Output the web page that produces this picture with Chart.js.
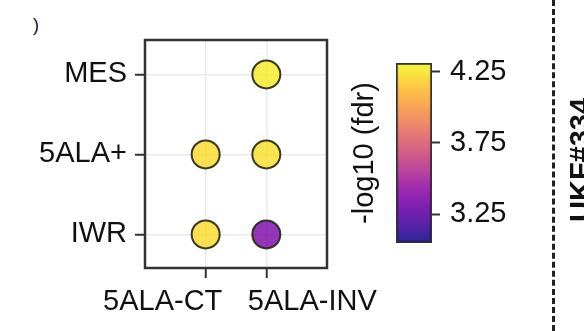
<!DOCTYPE html>
<html>
<head>
<meta charset="utf-8">
<script src="https://cdn.jsdelivr.net/npm/chart.js@4"></script>
<style>
    html, body { margin: 0; padding: 0; background: #fff; }
    body { width: 584px; height: 331px; position: relative; overflow: hidden;
           font-family: 'Liberation Sans', Arial, sans-serif; color: #111; }
    #dotChart { position: absolute; left: 0; top: 0; }
    #barChart { position: absolute; left: 340px; top: 0; }
    .cut-label { position: absolute; left: 33px; top: 15px; font-size: 18px; }
    .divider { position: absolute; left: 552px; top: 0; height: 331px; border-left: 3px dashed #222; }
    .side-title { position: absolute; left: 566px; top: 222px; font-size: 29px; line-height: 1;
                  font-weight: bold; white-space: nowrap; transform-origin: left top; transform: rotate(-90deg); }
</style>
</head>
<body>
<span class="cut-label">)</span>
<canvas id="dotChart" width="584" height="331"></canvas>
<canvas id="barChart" width="200" height="331"></canvas>
<div class="divider"></div>
<div class="side-title">UKF#334</div>
<script>
const xLabels = ['5ALA-CT', '5ALA-INV'];
const yLabels = ['IWR', '5ALA+', 'MES'];

// one entry per dot
const pointX = ['5ALA-CT', '5ALA-INV', '5ALA-CT', '5ALA-INV', '5ALA-INV'];
const pointY = ['IWR', 'IWR', '5ALA+', '5ALA+', 'MES'];
const fdrValues = [4.22, 3.35, 4.22, 4.23, 4.27];

const colorMin = 3.05;
const colorMax = 4.31;
const colorTicks = [3.25, 3.75, 4.25];

const FONT = "'Liberation Sans', Arial, sans-serif";

const plasma = [
    [13, 8, 135], [65, 4, 157], [106, 0, 168], [143, 13, 164], [177, 42, 144],
    [204, 71, 120], [225, 100, 98], [242, 132, 75], [252, 166, 54], [252, 206, 37],
    [240, 249, 33],
];

function plasmaColor(v, alpha) {
    const t = Math.min(1, Math.max(0, (v - colorMin) / (colorMax - colorMin))) * 10;
    const i = Math.min(9, Math.floor(t));
    const f = t - i;
    const c = plasma[i].map((a, k) => Math.round(a + (plasma[i + 1][k] - a) * f));
    return `rgba(${c[0]}, ${c[1]}, ${c[2]}, ${alpha})`;
}

const boxBorder = {
    id: 'boxBorder',
    beforeDatasetsDraw(chart) {
        const { ctx, chartArea: a } = chart;
        ctx.save();
        ctx.strokeStyle = '#333';
        ctx.lineWidth = 2.5;
        ctx.strokeRect(a.left, a.top, a.right - a.left, a.bottom - a.top);
        ctx.restore();
    },
};

// the long x labels are pushed apart so they do not overlap
const labelShift = [-43, 46];
const spreadLabels = {
    id: 'spreadLabels',
    beforeDraw(chart) {
        chart.scales.x.getLabelItems().forEach((item, i) => {
            if (!item._moved) {
                item.options.translation[0] += labelShift[i] || 0;
                item._moved = true;
            }
        });
    },
};

new Chart(document.getElementById('dotChart'), {
    type: 'scatter',
    data: {
        datasets: [
            {
                data: pointX.map((x, i) => ({ x: xLabels.indexOf(x), y: yLabels.indexOf(pointY[i]) })),
                backgroundColor: fdrValues.map((v) => plasmaColor(v, 0.8)),
                borderColor: 'rgba(35, 35, 20, 0.9)',
                borderWidth: 2,
                pointRadius: 14,
            },
        ],
    },
    options: {
        responsive: false,
        animation: false,
        devicePixelRatio: 1,
        layout: { padding: { top: 40, right: 257, left: 0, bottom: 0 } },
        plugins: { legend: { display: false }, tooltip: { enabled: false } },
        scales: {
            x: {
                type: 'linear',
                min: -1,
                max: 2,
                afterBuildTicks(scale) {
                    scale.ticks = xLabels.map((_, i) => ({ value: i }));
                },
                afterFit(scale) {
                    scale.height = 63;
                },
                ticks: {
                    callback: (v) => xLabels[v],
                    font: { family: FONT, size: 29 },
                    color: '#111',
                    padding: 7,
                    maxRotation: 0,
                },
                grid: { color: '#ebebeb', lineWidth: 1.5, tickColor: '#333', tickLength: 10, tickWidth: 2 },
                border: { display: false },
            },
            y: {
                type: 'linear',
                min: -0.42,
                max: 2.43,
                afterBuildTicks(scale) {
                    scale.ticks = yLabels.map((_, i) => ({ value: i }));
                },
                afterFit(scale) {
                    scale.width = 145;
                },
                ticks: {
                    callback: (v) => yLabels[v],
                    font: { family: FONT, size: 29 },
                    color: '#111',
                    padding: 8,
                },
                grid: { color: '#ebebeb', lineWidth: 1.5, tickColor: '#333', tickLength: 10, tickWidth: 2 },
                border: { display: false },
            },
        },
    },
    plugins: [boxBorder, spreadLabels],
});

// colour bar
new Chart(document.getElementById('barChart'), {
    type: 'bar',
    data: {
        labels: ['fdr'],
        datasets: [
            {
                data: [[colorMin, colorMax]],
                backgroundColor(context) {
                    const { chart } = context;
                    const a = chart.chartArea;
                    if (!a) {
                        return null;
                    }
                    const g = chart.ctx.createLinearGradient(0, a.bottom, 0, a.top);
                    plasma.forEach((c, i) => g.addColorStop(i / 10, `rgba(${c[0]}, ${c[1]}, ${c[2]}, 0.88)`));
                    return g;
                },
                borderColor: '#333',
                borderWidth: 2,
                borderSkipped: false,
                barPercentage: 1,
                categoryPercentage: 1,
            },
        ],
    },
    options: {
        responsive: false,
        animation: false,
        devicePixelRatio: 1,
        layout: { padding: { top: 63, bottom: 88, left: 0, right: 0 } },
        plugins: { legend: { display: false }, tooltip: { enabled: false } },
        scales: {
            x: { display: false },
            y: {
                position: 'right',
                min: colorMin,
                max: colorMax,
                afterBuildTicks(scale) {
                    scale.ticks = colorTicks.map((v) => ({ value: v }));
                },
                afterFit(scale) {
                    scale.width = 108;
                },
                ticks: {
                    callback: (v) => v.toFixed(2),
                    font: { family: FONT, size: 29 },
                    color: '#111',
                    padding: 10,
                },
                grid: { drawOnChartArea: false, tickColor: '#333', tickLength: 8, tickWidth: 2 },
                border: { display: false },
            },
            yTitle: {
                position: 'left',
                min: 0,
                max: 1,
                afterFit(scale) {
                    scale.width = 56;
                },
                ticks: { display: false },
                grid: { display: false },
                border: { display: false },
                title: {
                    display: true,
                    text: '-log10 (fdr)',
                    font: { family: FONT, size: 29 },
                    color: '#111',
                    padding: { top: 8, bottom: 0 },
                },
            },
        },
    },
});
</script>
</body>
</html>
